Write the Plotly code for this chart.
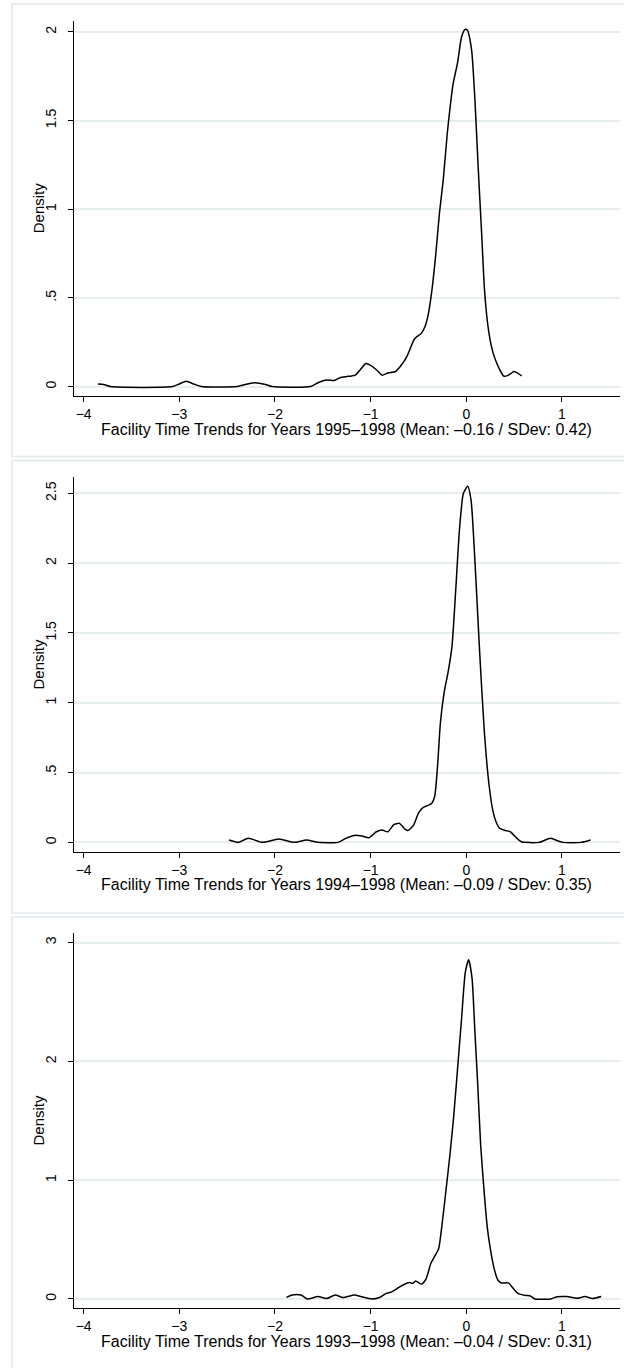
import plotly.graph_objects as go

# ---------------- data ----------------
x_titles = [
    "Facility Time Trends for Years 1995–1998 (Mean: –0.16 / SDev: 0.42)",
    "Facility Time Trends for Years 1994–1998 (Mean: –0.09 / SDev: 0.35)",
    "Facility Time Trends for Years 1993–1998 (Mean: –0.04 / SDev: 0.31)",
]
y_title = "Density"

x_ticks = [-4, -3, -2, -1, 0, 1]

y_ticks_1 = [0, 0.5, 1, 1.5, 2]
y_ticktext_1 = ["0", ".5", "1", "1.5", "2"]
y_ticks_2 = [0, 0.5, 1, 1.5, 2, 2.5]
y_ticktext_2 = ["0", ".5", "1", "1.5", "2", "2.5"]
y_ticks_3 = [0, 1, 2, 3]
y_ticktext_3 = ["0", "1", "2", "3"]

# panel 1: 1995-1998
trend_9598 = [-3.85, -3.79, -3.72, -3.07, -3.00, -2.93, -2.85, -2.77, -2.40, -2.30,
              -2.21, -2.10, -2.03, -1.63, -1.55, -1.46, -1.38, -1.32, -1.26, -1.20,
              -1.16, -1.10, -1.05, -1.00, -0.94, -0.88, -0.82, -0.74, -0.68, -0.62,
              -0.54, -0.47, -0.43, -0.40, -0.36, -0.32, -0.28, -0.24, -0.20, -0.17,
              -0.14, -0.09, -0.05, -0.015, 0.01, 0.055, 0.09, 0.124, 0.16, 0.19,
              0.22, 0.25, 0.28, 0.32, 0.36, 0.39, 0.43, 0.47, 0.50, 0.54, 0.58]
density_9598 = [0.015, 0.012, 0.0, 0.0, 0.015, 0.03, 0.015, 0.0, 0.0, 0.013,
                0.022, 0.012, 0.0, 0.0, 0.022, 0.037, 0.034, 0.05, 0.056, 0.06,
                0.065, 0.10, 0.13, 0.12, 0.095, 0.064, 0.077, 0.085, 0.12, 0.17,
                0.27, 0.30, 0.34, 0.40, 0.54, 0.74, 0.98, 1.17, 1.42, 1.57,
                1.70, 1.83, 1.97, 2.013, 2.01, 1.90, 1.62, 1.24, 0.87, 0.55,
                0.37, 0.26, 0.19, 0.13, 0.085, 0.06, 0.062, 0.075, 0.085, 0.075, 0.06]

# panel 2: 1994-1998
trend_9498 = [-2.48, -2.38, -2.28, -2.13, -1.96, -1.80, -1.67, -1.55, -1.34, -1.26,
              -1.17, -1.09, -1.015, -0.94, -0.88, -0.82, -0.76, -0.70, -0.64, -0.61,
              -0.55, -0.50, -0.45, -0.40, -0.36, -0.33, -0.30, -0.27, -0.23, -0.19,
              -0.15, -0.11, -0.07, -0.03, 0.015, 0.05, 0.09, 0.14, 0.19, 0.24,
              0.28, 0.31, 0.35, 0.41, 0.46, 0.53, 0.58, 0.61, 0.76, 0.88,
              0.96, 1.01, 1.20, 1.30]
density_9498 = [0.017, 0.0, 0.029, 0.0, 0.024, 0.0, 0.017, 0.0, 0.0, 0.029,
                0.05, 0.045, 0.033, 0.076, 0.088, 0.076, 0.125, 0.136, 0.095, 0.085,
                0.124, 0.21, 0.25, 0.265, 0.28, 0.33, 0.55, 0.86, 1.08, 1.22,
                1.40, 1.81, 2.25, 2.50, 2.55, 2.45, 2.02, 1.36, 0.78, 0.40,
                0.22, 0.15, 0.10, 0.085, 0.076, 0.029, 0.003, 0.0, 0.0, 0.029,
                0.01, 0.0, 0.0, 0.017]

# panel 3: 1993-1998
trend_9398 = [-1.88, -1.82, -1.73, -1.66, -1.55, -1.46, -1.37, -1.29, -1.17, -1.09,
              -0.99, -0.90, -0.84, -0.78, -0.70, -0.63, -0.59, -0.56, -0.53, -0.47,
              -0.42, -0.37, -0.33, -0.29, -0.25, -0.21, -0.17, -0.13, -0.09, -0.05,
              -0.01, 0.025, 0.06, 0.09, 0.12, 0.15, 0.19, 0.22, 0.25, 0.29,
              0.33, 0.37, 0.44, 0.49, 0.54, 0.62, 0.67, 0.72, 0.88, 0.95,
              1.05, 1.16, 1.24, 1.32, 1.41]
density_9398 = [0.014, 0.034, 0.034, 0.0, 0.02, 0.003, 0.034, 0.012, 0.034, 0.018,
                0.0, 0.015, 0.045, 0.06, 0.10, 0.13, 0.138, 0.13, 0.152, 0.125,
                0.17, 0.30, 0.36, 0.42, 0.65, 0.93, 1.22, 1.55, 1.95, 2.35,
                2.75, 2.855, 2.70, 2.25, 1.80, 1.30, 0.87, 0.60, 0.43, 0.26,
                0.16, 0.135, 0.135, 0.09, 0.048, 0.03, 0.025, 0.0, 0.0, 0.018,
                0.02, 0.006, 0.02, 0.003, 0.02]

# ---------------- layout helpers ----------------
W, H = 624, 1368
FONT = "Liberation Sans, Arial, Helvetica, sans-serif"
GRID = "#e6eef0"
BORDER = "#e2eaec"

def py(p):  # pixel from top -> paper fraction
    return 1 - p / H

def px(p):
    return p / W

x_left, x_right = 73.6, 620
x_range = [-4.105, 1.607]

panels = [
    dict(x=trend_9598, y=density_9598, top=20.5, bottom=396, yr=[-0.053, 2.064],
         tv=y_ticks_1, tt=y_ticktext_1, box=(4, 456.5)),
    dict(x=trend_9498, y=density_9498, top=477, bottom=852, yr=[-0.069, 2.617],
         tv=y_ticks_2, tt=y_ticktext_2, box=(460.5, 913)),
    dict(x=trend_9398, y=density_9398, top=933, bottom=1308, yr=[-0.076, 3.08],
         tv=y_ticks_3, tt=y_ticktext_3, box=(917, 1380)),
]

fig = go.Figure()
layout = dict(
    width=W, height=H,
    margin=dict(l=0, r=0, t=0, b=0),
    paper_bgcolor="white", plot_bgcolor="white",
    showlegend=False,
    font=dict(family=FONT, color="black", size=13),
    shapes=[], annotations=[],
)

for i, p in enumerate(panels, start=1):
    sfx = "" if i == 1 else str(i)
    fig.add_trace(go.Scatter(
        x=p["x"], y=p["y"], mode="lines",
        line=dict(color="black", width=1.5, shape="spline", smoothing=0.6),
        xaxis="x" + sfx, yaxis="y" + sfx, hoverinfo="skip",
    ))
    layout["xaxis" + sfx] = dict(
        domain=[px(x_left), px(x_right)], anchor="y" + sfx,
        range=x_range, tickvals=x_ticks, showgrid=False, zeroline=False,
        showline=True, linecolor="black", linewidth=1,
        ticks="outside", ticklen=5, tickwidth=1, tickcolor="black",
        tickfont=dict(size=14, family=FONT, color="black"),
        ticklabelstandoff=0,
    )
    layout["yaxis" + sfx] = dict(
        domain=[py(p["bottom"]), py(p["top"])], anchor="x" + sfx,
        range=p["yr"], tickvals=p["tv"], ticktext=p["tt"],
        showgrid=True, gridcolor=GRID, gridwidth=1.5, zeroline=False,
        showline=True, linecolor="black", linewidth=1,
        ticks="outside", ticklen=5, tickwidth=1, tickcolor="black",
        tickangle=-90,
        tickfont=dict(size=14, family=FONT, color="black"),
        ticklabelstandoff=6,
    )
    # panel border
    layout["shapes"].append(dict(
        type="rect", xref="paper", yref="paper",
        x0=px(12), x1=1.05, y0=py(p["box"][1]), y1=py(p["box"][0]),
        line=dict(color=BORDER, width=1.5), fillcolor="rgba(0,0,0,0)", layer="below",
    ))
    # x title
    layout["annotations"].append(dict(
        text=x_titles[i - 1], xref="paper", yref="paper",
        x=px((x_left + x_right) / 2), y=py(p["bottom"] + 33),
        xanchor="center", yanchor="middle", showarrow=False,
        font=dict(size=16, family=FONT, color="black"),
    ))
    # y title
    layout["annotations"].append(dict(
        text=y_title, xref="paper", yref="paper",
        x=px(38), y=py((p["top"] + p["bottom"]) / 2),
        xanchor="center", yanchor="middle", showarrow=False, textangle=-90,
        font=dict(size=15, family=FONT, color="black"),
    ))

fig.update_layout(**layout)
fig.write_html(
    "out.html",
    config={"displayModeBar": False},
    post_script="document.body.style.margin='0';document.body.style.padding='0';",
)
